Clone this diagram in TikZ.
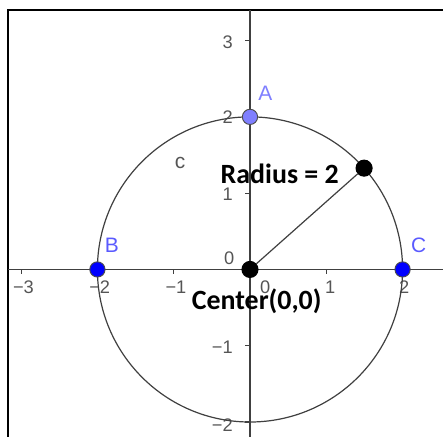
\documentclass[tikz,border=0pt]{standalone}
\usepackage{fontspec}
\setmainfont{Liberation Sans}
\newfontfamily\labelfont{Carlito}
\usetikzlibrary{positioning}
\definecolor{pointblue}{RGB}{0,0,255}
\definecolor{lightblue}{RGB}{127,127,255}
\definecolor{labelblue}{RGB}{90,90,255}
\definecolor{ticklabel}{RGB}{85,85,85}
\definecolor{axisgray}{RGB}{64,64,64}

\begin{document}
\begin{tikzpicture}[
    every node/.style={inner sep=0pt},
    ticklbl/.style={text=ticklabel, font=\fontsize{6.8}{7}\selectfont},
    ptlabel/.style={font=\fontsize{7.8}{8}\selectfont},
    mathlabel/.style={font=\labelfont\bfseries\fontsize{10.4}{11}\selectfont},
    bluept/.style={circle, draw=black!70, line width=0.35pt, minimum size=0.2cm, fill=pointblue},
    blackpt/.style={circle, draw=black, fill=black, minimum size=0.21cm}
]
\useasboundingbox (-3.277,-2.195) rectangle (2.530,3.532);
\coordinate (O) at (0,0);
\coordinate (R) at (41.6:2);

% frame and axes
\draw[line width=0.75pt] (-3.172,-2.195) -- (-3.172,3.397) -- (2.530,3.397);
\draw[axisgray, line width=0.5pt] (-3.172,0) -- (2.530,0);
\draw[axisgray, line width=0.5pt] (0,-2.195) -- (0,3.397);
\draw[axisgray, line width=0.4pt] (-3,0) -- ++(0,-0.065) (-2,0) -- ++(0,-0.065) (-1,0) -- ++(0,-0.065) (1,0) -- ++(0,-0.065) (2,0) -- ++(0,-0.065);
\draw[axisgray, line width=0.4pt] (0,-2) -- ++(-0.065,0) (0,-1) -- ++(-0.065,0) (0,1) -- ++(-0.065,0) (0,2) -- ++(-0.065,0) (0,3) -- ++(-0.065,0);

% tick labels
\node (xm3) [ticklbl] at (-2.97,-0.233) {−3};
\node (xm2) [ticklbl] at (-1.97,-0.233) {−2};
\node (xm1) [ticklbl] at (-0.97,-0.233) {−1};
\node (x0) [ticklbl] at (0.2,-0.233) {0};
\node (x1) [ticklbl] at (1.05,-0.233) {1};
\node (x2) [ticklbl] at (2.02,-0.233) {2};
\node (ym2) [ticklbl, anchor=east] at (-0.22,-2.04) {−2};
\node (ym1) [ticklbl, anchor=east] at (-0.22,-1.025) {−1};
\node (y0) [ticklbl, anchor=east] at (-0.2,0.147) {0};
\node (y1) [ticklbl, anchor=east] at (-0.22,0.99) {1};
\node (y2) [ticklbl, anchor=east] at (-0.22,1.99) {2};
\node (y3) [ticklbl, anchor=east] at (-0.22,2.972) {3};

% circle c
\draw[axisgray, line width=0.45pt] (O) circle (2);
\node (lblc) [ptlabel, text=ticklabel] at (-0.917,1.39) {c};

% points
\node (center) [blackpt] at (O) {};
\node (rad) [blackpt] at (R) {};
\node (A) [bluept, fill=lightblue] at (0,2) {};
\node (B) [bluept] at (-2,0) {};
\node (C) [bluept] at (2,0) {};
\node (lblA) [ptlabel, text=lightblue] at (0.2,2.31) {A};
\node (lblB) [ptlabel, text=labelblue] at (-1.81,0.31) {B};
\node (lblC) [ptlabel, text=labelblue] at (2.21,0.31) {C};

\draw[axisgray, line width=0.45pt] (center) -- (rad);

\node (radius) [mathlabel] at (0.39,1.26) {Radius = 2};
\node (centerlbl) [mathlabel] at (0.088,-0.42) {Center(0,0)};
\end{tikzpicture}
\end{document}
